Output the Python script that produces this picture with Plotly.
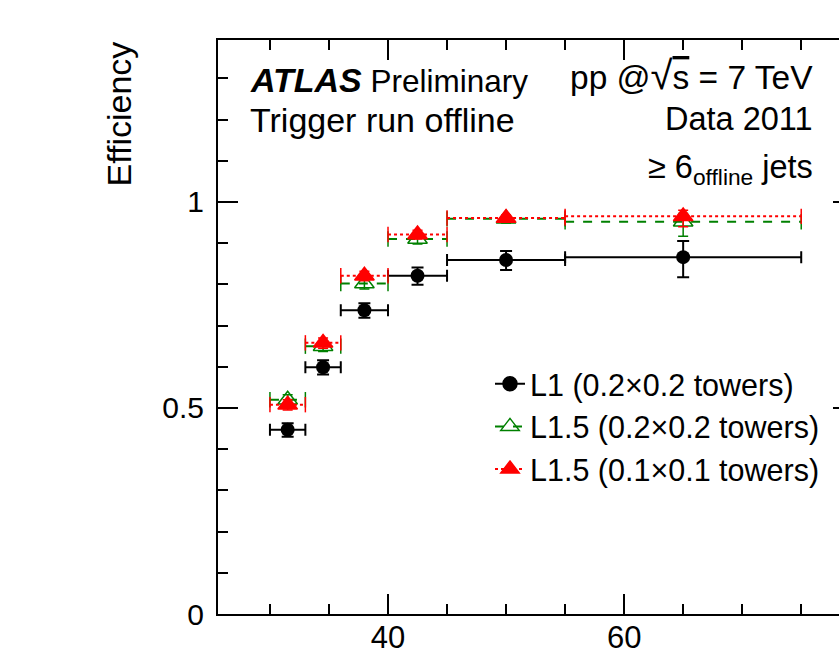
import plotly.graph_objects as go

# ---------------- data ----------------
bin_lo = [30, 33, 36, 40, 45, 55]
bin_hi = [33, 36, 40, 45, 55, 75]
x_center = [31.5, 34.5, 38, 42.5, 50, 65]

l1_eff = [0.447, 0.599, 0.737, 0.821, 0.859, 0.866]
l1_err_up = [0.016, 0.017, 0.017, 0.020, 0.022, 0.039]
l1_err_dn = [0.017, 0.018, 0.018, 0.022, 0.024, 0.049]

l15_02_eff = [0.520, 0.650, 0.802, 0.910, 0.959, 0.952]
l15_02_err_up = [0.012, 0.012, 0.012, 0.010, 0.008, 0.020]
l15_02_err_dn = [0.013, 0.013, 0.013, 0.012, 0.010, 0.035]

l15_01_eff = [0.508, 0.658, 0.821, 0.921, 0.961, 0.965]
l15_01_err_up = [0.012, 0.012, 0.011, 0.010, 0.007, 0.015]
l15_01_err_dn = [0.013, 0.013, 0.012, 0.011, 0.009, 0.025]

names = ["L1 (0.2\u00d70.2 towers)", "L1.5 (0.2\u00d70.2 towers)", "L1.5 (0.1\u00d70.1 towers)"]

x_ticks = [40, 60]
y_ticks = [0, 0.5, 1]

FONT = "Liberation Sans, Arial, Helvetica, sans-serif"
BLACK = "#000000"
GREEN = "#008000"
RED = "#ff0000"

fig = go.Figure()

half_w = [(h - l) / 2 for l, h in zip(bin_lo, bin_hi)]


def hsegments(vals):
    xs, ys = [], []
    for l, h, v in zip(bin_lo, bin_hi, vals):
        xs += [l, h, None]
        ys += [v, v, None]
    return xs, ys


# --- L1 : black solid error bars + filled circles
fig.add_trace(go.Scatter(
    x=x_center, y=l1_eff, mode="markers", showlegend=False, hoverinfo="skip",
    marker=dict(symbol="circle", size=14, color=BLACK),
    error_x=dict(type="data", array=half_w, color=BLACK, thickness=2, width=6),
    error_y=dict(type="data", array=l1_err_up, arrayminus=l1_err_dn,
                 color=BLACK, thickness=2, width=6),
))

# --- L1.5 series with dashed / dotted bin lines
for vals, up, dn, col, dash, sym in [
    (l15_02_eff, l15_02_err_up, l15_02_err_dn, GREEN, "dash", "triangle-up-open"),
    (l15_01_eff, l15_01_err_up, l15_01_err_dn, RED, "dot", "triangle-up"),
]:
    xs, ys = hsegments(vals)
    fig.add_trace(go.Scatter(x=xs, y=ys, mode="lines", showlegend=False,
                             hoverinfo="skip",
                             line=dict(color=col, width=2, dash=dash)))
    fig.add_trace(go.Scatter(
        x=bin_lo + bin_hi, y=vals + vals, mode="markers", showlegend=False,
        hoverinfo="skip",
        marker=dict(symbol="line-ns", size=11, line=dict(color=col, width=1.5))))
    fig.add_trace(go.Scatter(
        x=x_center, y=vals, mode="markers", showlegend=False, hoverinfo="skip",
        marker=dict(symbol=sym, size=17, color=col, line=dict(color=col, width=1.5)),
        error_y=dict(type="data", array=up, arrayminus=dn, color=col,
                     thickness=1.5, width=5),
    ))

# --- legend proxies
for nm, col, dash, sym, sz in [
    (names[0], BLACK, "solid", "circle", 14),
    (names[1], GREEN, "dash", "triangle-up-open", 16),
    (names[2], RED, "dot", "triangle-up", 16),
]:
    fig.add_trace(go.Scatter(
        x=[None], y=[None], mode="lines+markers", name=nm,
        line=dict(color=col, width=2, dash=dash),
        marker=dict(symbol=sym, size=sz, color=col, line=dict(color=col, width=1.5)),
    ))

# dummy trace for right-side tick axis
fig.add_trace(go.Scatter(x=[None], y=[None], yaxis="y2", showlegend=False,
                         hoverinfo="skip"))

y_range = [0, 1.393]

fig.update_layout(
    width=839, height=655,
    margin=dict(l=218, r=0, t=40, b=41),
    paper_bgcolor="white", plot_bgcolor="white",
    font=dict(family=FONT, size=31, color=BLACK),
    xaxis=dict(range=[25.6, 78.2], showline=True, linecolor=BLACK, linewidth=2,
               mirror="ticks", ticks="inside", ticklen=20, tickwidth=2,
               tickcolor=BLACK, tickvals=x_ticks, showgrid=False, zeroline=False,
               ticklabelstandoff=-5, automargin=False,
               tickfont=dict(family=FONT, size=31, color=BLACK),
               minor=dict(ticks="inside", ticklen=10, tickwidth=2, dtick=5,
                          tick0=0, tickcolor=BLACK, showgrid=False)),
    yaxis=dict(range=y_range, showline=True, linecolor=BLACK, linewidth=2,
               mirror=False, ticks="inside", ticklen=20, tickwidth=2,
               tickcolor=BLACK, tickvals=y_ticks, showgrid=False, zeroline=False,
               ticklabelstandoff=6, automargin=False,
               tickfont=dict(family=FONT, size=30, color=BLACK),
               minor=dict(ticks="inside", ticklen=10, tickwidth=2, dtick=0.1,
                          tick0=0, tickcolor=BLACK, showgrid=False)),
    yaxis2=dict(range=y_range, overlaying="y", side="right", showline=False,
                ticks="inside", ticklen=6, tickwidth=2, tickcolor=BLACK,
                tickvals=y_ticks, showticklabels=False, showgrid=False,
                zeroline=False, automargin=False),
    legend=dict(x=0.438, y=0.447, xanchor="left", yanchor="top",
                bgcolor="rgba(0,0,0,0)", borderwidth=0,
                font=dict(family=FONT, size=30.5, color=BLACK),
                tracegroupgap=0),
    showlegend=True,
)


def f(sz):
    return dict(family=FONT, size=sz, color=BLACK)


anns = [
    dict(text="<span style='font-size:34px'><b><i>ATLAS</i></b></span> Preliminary",
         x=0.049, y=0.930, xanchor="left", yanchor="middle", font=f(31.5)),
    dict(text="pp @<span style='font-size:40px'>\u221a</span>"
              "<span style='text-decoration:overline'>s</span> = 7 TeV",
         x=0.9614, y=0.939, xanchor="right", yanchor="middle", font=f(33.5)),
    dict(text="Trigger run offline", x=0.049, y=0.860, xanchor="left",
         yanchor="middle", font=f(34)),
    dict(text="Data 2011", x=0.9614, y=0.862, xanchor="right", yanchor="middle",
         font=f(32.5)),
    dict(text="\u2265 6<sub>offline</sub> jets", x=0.9614, y=0.774,
         xanchor="right", yanchor="middle", font=f(32.5)),
]
for a in anns:
    fig.add_annotation(xref="paper", yref="paper", showarrow=False, **a)

fig.add_annotation(text="Efficiency", xref="paper", yref="paper", x=-0.161, y=1.0,
                   xanchor="center", yanchor="top", textangle=-90,
                   showarrow=False, font=f(34))

fig.write_html("out.html")
